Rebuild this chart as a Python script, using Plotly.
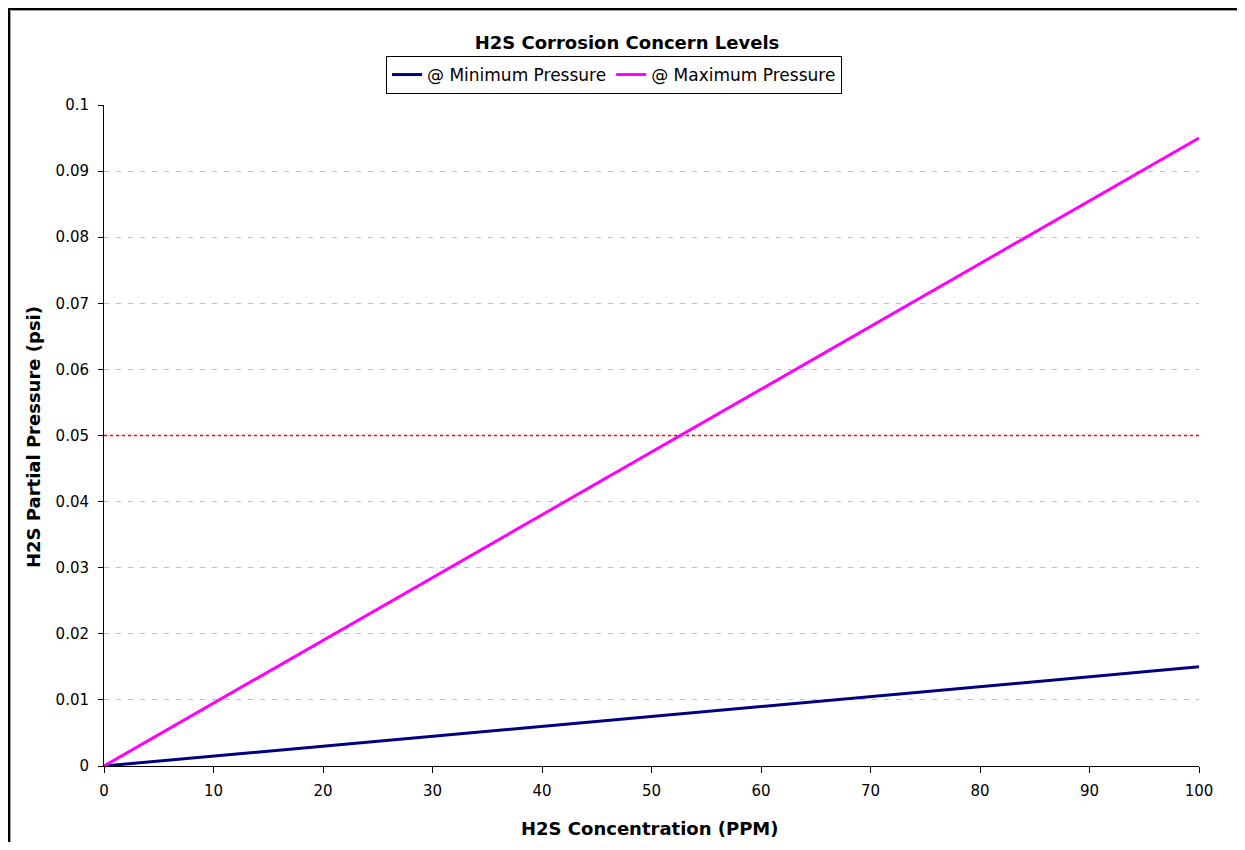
import plotly.graph_objects as go

# Data
conc_ppm = [0, 10, 20, 30, 40, 50, 60, 70, 80, 90, 100]
p_min = [0, 0.0015, 0.003, 0.0045, 0.006, 0.0075, 0.009, 0.0105, 0.012, 0.0135, 0.015]
p_max = [0, 0.0095, 0.019, 0.0285, 0.038, 0.0475, 0.057, 0.0665, 0.076, 0.0855, 0.095]
concern_x = [0, 100]
concern_y = [0.05, 0.05]
series_names = ["@ Minimum Pressure", "@ Maximum Pressure"]

FONT = "DejaVu Sans, Verdana, sans-serif"

# figure geometry (page has an 8px body margin)
W, H = 1229, 834
L, R, T, B = 96, 38, 97, 76
PW, PH = W - L - R, H - T - B


def px(fx):
    return (fx - L) / PW


def py(fy):
    return (H - B - fy) / PH


fig = go.Figure()
fig.add_trace(go.Scatter(x=concern_x, y=concern_y, mode="lines",
                         line=dict(color="#ff0000", width=1.5, dash="dot"),
                         showlegend=False, hoverinfo="skip"))
fig.add_trace(go.Scatter(x=conc_ppm, y=p_min, mode="lines", name=series_names[0],
                         line=dict(color="#000080", width=3)))
fig.add_trace(go.Scatter(x=conc_ppm, y=p_max, mode="lines", name=series_names[1],
                         line=dict(color="#ff00ff", width=3)))

fig.update_layout(
    width=W, height=H,
    margin=dict(l=L, r=R, t=T, b=B),
    paper_bgcolor="white", plot_bgcolor="white",
    font=dict(family=FONT, size=15, color="black"),
    title=dict(text="<b>H2S Corrosion Concern Levels</b>", xref="container", x=619 / W,
               xanchor="center", yref="container", y=1 - 35 / H, yanchor="middle",
               font=dict(size=18, family=FONT)),
    legend=dict(orientation="h", x=px(606), xanchor="center", y=py(67),
                yanchor="middle", bordercolor="black", borderwidth=1,
                font=dict(size=17, family=FONT)),
    showlegend=True,
)

fig.update_xaxes(range=[0, 100], dtick=10, showline=True, linecolor="black", linewidth=1,
                 ticks="outside", ticklen=6, tickcolor="black", showgrid=False, zeroline=False,
                 tickfont=dict(size=15), ticklabelstandoff=5)
fig.update_yaxes(range=[0, 0.1], dtick=0.01, showline=True, linecolor="black", linewidth=1,
                 ticks="outside", ticklen=5, tickcolor="black", showgrid=True,
                 gridcolor="#c0c0c0", griddash="5px,7px", gridwidth=1, zeroline=False,
                 tickfont=dict(size=15), ticklabelstandoff=6)

fig.add_annotation(text="<b>H2S Concentration (PPM)</b>", xref="paper", yref="paper",
                   x=px(642), y=py(820), xanchor="center", yanchor="middle",
                   showarrow=False, font=dict(size=18, family=FONT))
fig.add_annotation(text="<b>H2S Partial Pressure (psi)</b>", xref="paper", yref="paper",
                   x=px(25), y=py(429), xanchor="center", yanchor="middle", textangle=-90,
                   showarrow=False, font=dict(size=18, family=FONT))

# outer chart-area border (left and top edges visible), with grey inner shadow
fig.add_shape(type="rect", xref="paper", yref="paper",
              x0=px(1), x1=px(W + 20), y0=py(H + 20), y1=py(1),
              line=dict(color="black", width=2), fillcolor="rgba(0,0,0,0)", layer="below")
fig.add_shape(type="rect", xref="paper", yref="paper",
              x0=px(2.5), x1=px(W + 20), y0=py(H + 20), y1=py(2.5),
              line=dict(color="#a0a0a0", width=1), fillcolor="rgba(0,0,0,0)", layer="below")

fig.write_html("out.html")
